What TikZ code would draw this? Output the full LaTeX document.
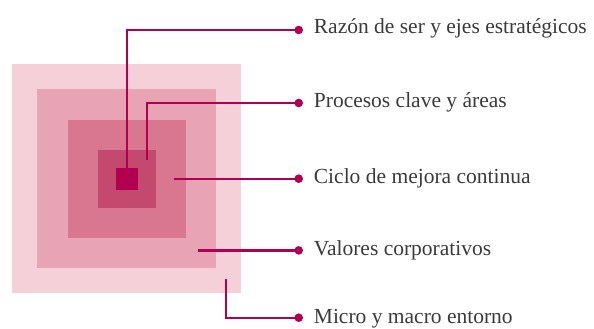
\documentclass[tikz,border=0pt]{standalone}
\usepackage{fontspec}
\setmainfont{Liberation Serif}
\usetikzlibrary{positioning}

\definecolor{capa1}{HTML}{F5D0D9}
\definecolor{capa2}{HTML}{E8A4B4}
\definecolor{capa3}{HTML}{D8778F}
\definecolor{capa4}{HTML}{C4496F}
\definecolor{capa5}{HTML}{B0004F}
\definecolor{linea}{HTML}{B0004F}
\definecolor{texto}{HTML}{3A3A3A}

\begin{document}
\begin{tikzpicture}[x=1pt,y=-1pt,
    capa/.style={rectangle,draw=none,inner sep=0pt},
    punto/.style={circle,fill=linea,inner sep=0pt,minimum size=8.6pt},
    conector/.style={draw=linea,line width=2.2pt},
    etiqueta/.style={inner sep=0pt,anchor=base west,text=texto,font=\fontsize{21.5}{24}\selectfont}]

    \useasboundingbox (0,0) rectangle (594,329);

		% capas
		\node[capa][fill=capa1,minimum size=229pt](c1) at (126.5,178.5){};
		\node[capa][fill=capa2,minimum size=179pt](c2) at (126.5,178.5){};
		\node[capa][fill=capa3,minimum size=118pt](c3) at (127,179){};
		\node[capa][fill=capa4,minimum size=58pt](c4) at (127,179){};
		\node[capa][fill=capa5,minimum size=22pt](c5) at (127,179){};

		% puntos
		\node[punto](d1) at (298.7,30){};
		\node[punto](d2) at (298.7,103){};
		\node[punto](d3) at (298.7,178.7){};
		\node[punto](d4) at (298.7,250.4){};
		\node[punto](d5) at (298.7,317.7){};

		% textos
		\node[etiqueta](t1) at ([xshift=15pt,yshift=-3.5pt]d1.center){Razón de ser y ejes estratégicos};
		\node[etiqueta](t2) at ([xshift=15pt,yshift=-4pt]d2.center){Procesos clave y áreas};
		\node[etiqueta](t3) at ([xshift=15pt,yshift=-4.5pt]d3.center){Ciclo de mejora continua};
		\node[etiqueta](t4) at ([xshift=15pt,yshift=-5pt]d4.center){Valores corporativos};
		\node[etiqueta](t5) at ([xshift=15pt,yshift=-6pt]d5.center){Micro y macro entorno};

		% inicio de conectores
		\coordinate (p2) at (146.7,160);
		\coordinate (p3) at (174,178.7);
		\coordinate (p4) at (198.3,250.4);
		\coordinate (p5) at (226,279.3);

		\path[conector] (c5.north) |- (d1.center);
		\path[conector] (p2) |- (d2.center);
		\path[conector] (p3) -- (d3.center);
		\path[conector] (p4) -- (d4.center);
		\path[conector] (p5) |- (d5.center);

	\end{tikzpicture}
\end{document}
